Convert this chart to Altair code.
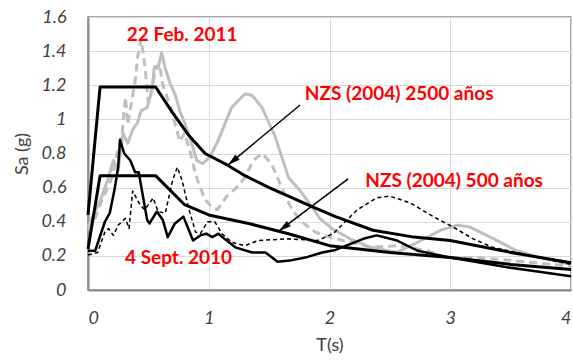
import altair as alt
import pandas as pd

# NZS 1170.5 (2004) design spectra
nzs2500_T = [0, 0.1, 0.56, 0.7, 0.83, 0.97, 1.16, 1.3, 1.5, 1.66, 1.85, 2.05, 2.36, 2.7, 3.0, 3.5, 4.0]
nzs2500_Sa = [0.44, 1.19, 1.19, 1.04, 0.91, 0.80, 0.73, 0.67, 0.60, 0.55, 0.49, 0.43, 0.35, 0.31, 0.29, 0.22, 0.16]

nzs500_T = [0, 0.1, 0.56, 0.8, 1.0, 1.33, 1.66, 2.0, 2.5, 3.0, 3.5, 4.0]
nzs500_Sa = [0.24, 0.67, 0.67, 0.50, 0.44, 0.39, 0.33, 0.26, 0.22, 0.19, 0.15, 0.12]

# 4 Sept. 2010 records (solid and dashed components)
sept_solid_T = [0, 0.06, 0.14, 0.18, 0.22, 0.25, 0.265, 0.3, 0.35, 0.39, 0.42, 0.45, 0.49, 0.51,
                0.57, 0.62, 0.66, 0.72, 0.79, 0.87, 0.93, 0.98, 1.03, 1.08, 1.13, 1.22, 1.36,
                1.47, 1.57, 1.69, 1.80, 1.94, 2.05, 2.28, 2.39, 2.56, 2.73, 3.0, 3.5, 4.0]
sept_solid_Sa = [0.23, 0.23, 0.40, 0.45, 0.59, 0.72, 0.88, 0.80, 0.76, 0.69, 0.69, 0.57, 0.41, 0.39,
                 0.46, 0.41, 0.31, 0.39, 0.43, 0.29, 0.32, 0.33, 0.31, 0.33, 0.30, 0.25, 0.22,
                 0.22, 0.165, 0.175, 0.19, 0.22, 0.235, 0.30, 0.32, 0.29, 0.23, 0.19, 0.13, 0.08]

sept_dash_T = [0, 0.08, 0.14, 0.17, 0.21, 0.25, 0.31, 0.34, 0.37, 0.43, 0.47, 0.54, 0.58, 0.64,
               0.70, 0.74, 0.78, 0.83, 0.89, 0.93, 0.99, 1.05, 1.11, 1.19, 1.30, 1.41, 1.66, 1.90,
               2.03, 2.23, 2.39, 2.50, 2.67, 2.86, 3.02, 3.19, 3.35, 3.55, 3.8, 4.0]
sept_dash_Sa = [0.205, 0.22, 0.34, 0.36, 0.32, 0.38, 0.42, 0.36, 0.58, 0.50, 0.47, 0.54, 0.46, 0.45,
                0.64, 0.72, 0.64, 0.49, 0.34, 0.33, 0.40, 0.40, 0.33, 0.28, 0.26, 0.29, 0.30, 0.29,
                0.33, 0.47, 0.54, 0.55, 0.51, 0.43, 0.37, 0.30, 0.25, 0.22, 0.18, 0.15]

# 22 Feb. 2011 records (solid and dashed components)
feb_solid_T = [0, 0.05, 0.1, 0.14, 0.17, 0.21, 0.25, 0.29, 0.33, 0.37, 0.41, 0.44, 0.49, 0.53,
               0.55, 0.58, 0.61, 0.64, 0.68, 0.72, 0.76, 0.80, 0.85, 0.90, 0.95, 1.01, 1.08, 1.19,
               1.30, 1.36, 1.44, 1.55, 1.66, 1.76, 1.84, 1.92, 2.02, 2.17, 2.34, 2.56, 2.73, 2.92,
               3.06, 3.16, 3.36, 3.55, 3.74, 4.0]
feb_solid_Sa = [0.37, 0.45, 0.52, 0.60, 0.66, 0.76, 0.70, 0.92, 0.86, 0.94, 0.98, 1.05, 1.07, 1.17,
                1.31, 1.30, 1.39, 1.30, 1.21, 1.15, 1.05, 0.98, 0.88, 0.76, 0.74, 0.78, 0.88, 1.07,
                1.15, 1.14, 1.07, 0.90, 0.66, 0.58, 0.50, 0.42, 0.36, 0.30, 0.25, 0.22, 0.28, 0.35,
                0.38, 0.37, 0.30, 0.23, 0.19, 0.15]

feb_dash_T = [0, 0.05, 0.1, 0.15, 0.2, 0.24, 0.28, 0.31, 0.33, 0.36, 0.39, 0.41, 0.44, 0.47, 0.50,
              0.53, 0.56, 0.59, 0.62, 0.66, 0.70, 0.73, 0.76, 0.80, 0.85, 0.89, 0.93, 0.97, 1.02,
              1.07, 1.15, 1.23, 1.30, 1.37, 1.44, 1.52, 1.61, 1.69, 1.77, 1.88, 2.0, 2.17, 2.34,
              2.58, 2.81, 2.97, 3.19, 3.41, 3.69, 4.0]
feb_dash_Sa = [0.35, 0.40, 0.50, 0.58, 0.66, 0.80, 0.90, 1.13, 0.97, 1.10, 1.22, 1.36, 1.47, 1.32,
               1.10, 1.18, 1.30, 1.33, 1.20, 1.12, 1.03, 0.95, 0.87, 0.92, 0.80, 0.68, 0.60, 0.53,
               0.49, 0.47, 0.55, 0.60, 0.66, 0.76, 0.80, 0.74, 0.59, 0.47, 0.40, 0.34, 0.31, 0.28,
               0.25, 0.26, 0.23, 0.19, 0.19, 0.18, 0.16, 0.14]

# Annotations
label_text = ["22 Feb. 2011", "NZS (2004) 2500 años", "NZS (2004) 500 años", "4 Sept. 2010"]
label_T = [0.78, 2.577, 3.032, 0.75]
label_Sa = [1.495, 1.148, 0.64, 0.188]

arrow_T0 = [1.756, 2.154]
arrow_Sa0 = [1.084, 0.651]
arrow_T1 = [1.160, 1.582]
arrow_Sa1 = [0.733, 0.346]
arrow_angle = [230, 233]

x_ticks = [0, 1, 2, 3, 4]
y_ticks = [0, 0.2, 0.4, 0.6, 0.8, 1, 1.2, 1.4, 1.6]

GRAY = "#bfbfbf"
FONT = "Lato"
TEXT_COLOR = "#404040"

common_axis = dict(labelFontStyle="italic", labelFontSize=18, labelFont=FONT,
                   labelColor=TEXT_COLOR, labelOverlap=False, ticks=False,
                   titleFont=FONT, titleFontSize=18, titleFontWeight="normal",
                   titleColor=TEXT_COLOR, domainColor="#8c8c8c", domainWidth=2,
                   gridColor="#d9d9d9", gridWidth=1)
x_axis = alt.Axis(title="T(s)", values=x_ticks, format="d",
                  labelPadding=19, titlePadding=9, **common_axis)
y_axis = alt.Axis(title="Sa (g)", values=y_ticks, format="~g",
                  labelPadding=22, titlePadding=9, **common_axis)
x_scale = alt.Scale(domain=[0, 4], nice=False)
y_scale = alt.Scale(domain=[0, 1.6], nice=False)


def xe(field):
    return alt.X(f"{field}:Q", scale=x_scale, axis=x_axis)


def ye(field):
    return alt.Y(f"{field}:Q", scale=y_scale, axis=y_axis)


def series(T, Sa, color, width, dash=None):
    df = pd.DataFrame({"T": T, "Sa": Sa})
    kw = dict(color=color, strokeWidth=width, strokeCap="butt", strokeJoin="round")
    if dash:
        kw["strokeDash"] = dash
    return alt.Chart(df).mark_line(**kw).encode(x=xe("T"), y=ye("Sa"))


layers = [
    series(feb_solid_T, feb_solid_Sa, GRAY, 3),
    series(feb_dash_T, feb_dash_Sa, GRAY, 3, dash=[8, 5]),
    series(sept_dash_T, sept_dash_Sa, "black", 1.5, dash=[4, 3]),
    series(sept_solid_T, sept_solid_Sa, "black", 2.5),
    series(nzs500_T, nzs500_Sa, "black", 3),
    series(nzs2500_T, nzs2500_Sa, "black", 3),
]

# Arrow shafts and filled triangular heads (tip at the target point)
arrows_df = pd.DataFrame({"T0": arrow_T0, "Sa0": arrow_Sa0, "T1": arrow_T1,
                          "Sa1": arrow_Sa1, "angle": arrow_angle})
arrow_lines = alt.Chart(arrows_df).mark_rule(color="black", strokeWidth=1.5).encode(
    x=xe("T0"), y=ye("Sa0"), x2="T1:Q", y2="Sa1:Q")
arrow_heads = alt.Chart(arrows_df).mark_point(
    shape="M0,0L0.55,2L-0.55,2Z", filled=True, color="black", size=150, opacity=1,
    strokeWidth=0
).encode(x=xe("T1"), y=ye("Sa1"), angle=alt.Angle("angle:Q", scale=None))

labels_df = pd.DataFrame({"T": label_T, "Sa": label_Sa, "text": label_text})
labels = alt.Chart(labels_df).mark_text(
    font=FONT, fontSize=19, fontWeight="bold", color="#ff0000", align="center",
    baseline="middle"
).encode(x=xe("T"), y=ye("Sa"), text="text:N")

chart = alt.layer(*layers, arrow_lines, arrow_heads, labels).properties(
    width=483, height=273,
    padding={"left": 88, "top": 17, "right": 2, "bottom": 73},
    autosize=alt.AutoSizeParams(type="none"),
    background="white",
).configure_view(stroke="#8c8c8c", strokeWidth=1.5)

chart.save("out.html", embed_options={"renderer": "svg", "actions": False})
